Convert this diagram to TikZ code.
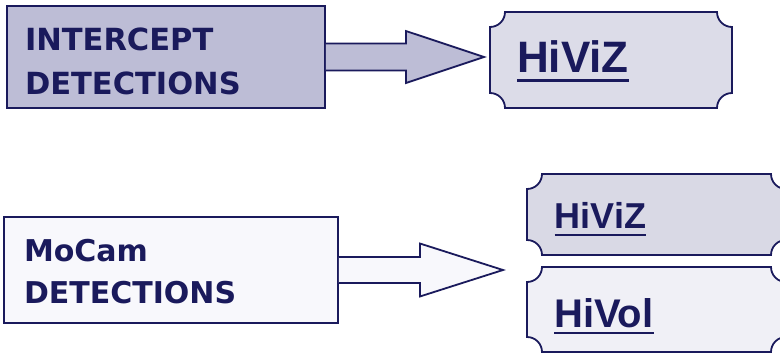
\documentclass[tikz,border=0pt]{standalone}
\usepackage{fontspec}
\newfontfamily\detfont{DejaVu Sans}
\newfontfamily\vizfont{Liberation Sans}
\definecolor{navy}{HTML}{1A1A5C}
\definecolor{srcdark}{HTML}{BDBDD6}
\definecolor{srclight}{HTML}{F8F8FC}
\definecolor{vizdark}{HTML}{DCDCE8}
\definecolor{vizmid}{HTML}{D9D9E5}
\definecolor{vollight}{HTML}{F0F0F6}

% ticket outline round a named node: #1 node, #2 fill
\newcommand{\ticket}[2]{%
  \draw[ticketline, fill=#2] ([xshift=15pt]#1.north west) -- ([xshift=-15pt]#1.north east)
    arc[start angle=180, end angle=270, radius=15pt] -- ([yshift=15pt]#1.south east)
    arc[start angle=90, end angle=180, radius=15pt] -- ([xshift=15pt]#1.south west)
    arc[start angle=0, end angle=90, radius=15pt] -- ([yshift=-15pt]#1.north west)
    arc[start angle=270, end angle=360, radius=15pt] -- cycle;}

\begin{document}
\begin{tikzpicture}[x=1pt, y=1pt, line join=miter,
    srcbox/.style={draw=navy, line width=1.8pt, text=navy, align=left},
    ticketbox/.style={rectangle, inner sep=0pt, outer sep=0pt},
    ticketline/.style={draw=navy, line width=1.8pt},
    fatarrow/.style={draw=navy, line width=1.8pt},
    vizlabel/.style={anchor=base west, inner sep=0pt, text=navy},
    vizline/.style={draw=navy, line cap=butt}]
    \fill[white] (0,0) rectangle (780,-354);
    \useasboundingbox (0,0) rectangle (780,-354);

    % sources
    \node[srcbox, fill=srcdark, minimum width=318pt, minimum height=102pt,
        inner xsep=18pt, text width=282pt,
        font=\detfont\bfseries\fontsize{30.5}{44}\selectfont] (intercept) at (166,-57)
        {INTERCEPT\rule{0pt}{32pt}\\DETECTIONS};
    \node[srcbox, fill=srclight, minimum width=334pt, minimum height=106pt,
        inner xsep=20pt, text width=294pt,
        font=\detfont\bfseries\fontsize{30}{42}\selectfont] (mocam) at (171,-270)
        {MoCam\rule{0pt}{26pt}\\DETECTIONS};

    % targets
    \node[ticketbox, minimum width=242pt, minimum height=96pt] (hvtop) at (611,-60) {};
    \node[ticketbox, minimum width=259pt, minimum height=81pt] (hvmid) at (656.5,-214.5) {};
    \node[ticketbox, minimum width=259pt, minimum height=85pt] (hvlow) at (656.5,-309.5) {};
    \ticket{hvtop}{vizdark}
    \ticket{hvmid}{vizmid}
    \ticket{hvlow}{vollight}

    \node[vizlabel, font=\vizfont\bfseries\fontsize{44}{44}\selectfont] (hvtopT) at (517,-72) {HiViZ};
    \node[vizlabel, font=\vizfont\bfseries\fontsize{36}{36}\selectfont] (hvmidT) at (554.5,-228) {HiViZ};
    \node[vizlabel, font=\vizfont\bfseries\fontsize{40}{40}\selectfont] (hvlowT) at (554,-327) {HiVol};
    \draw[vizline, line width=3pt] ([yshift=-8pt]hvtopT.base west) -- ([yshift=-8pt]hvtopT.base east);
    \draw[vizline, line width=2.5pt] ([yshift=-7pt]hvmidT.base west) -- ([yshift=-7pt]hvmidT.base east);
    \draw[vizline, line width=2pt] ([yshift=-6pt]hvlowT.base west) -- ([yshift=-6pt]hvlowT.base east);

    % fat arrows
    \coordinate (tipA) at ([xshift=-6pt]hvtop.west |- intercept.east);
    \coordinate (tipB) at ([xshift=-24pt]hvmid.west |- mocam.east);
    \path[fatarrow, fill=srcdark] ([yshift=13.5pt]intercept.east) -- ++(80,0) -- ++(0,12.5)
        -- (tipA) -- ([xshift=80pt, yshift=-26pt]intercept.east) -- ++(0,12.5)
        -- ([yshift=-13.5pt]intercept.east);
    \path[fatarrow, fill=srclight] ([yshift=13pt]mocam.east) -- ++(81,0) -- ++(0,13.5)
        -- (tipB) -- ([xshift=81pt, yshift=-26.5pt]mocam.east) -- ++(0,13.5)
        -- ([yshift=-13pt]mocam.east);
\end{tikzpicture}
\end{document}
